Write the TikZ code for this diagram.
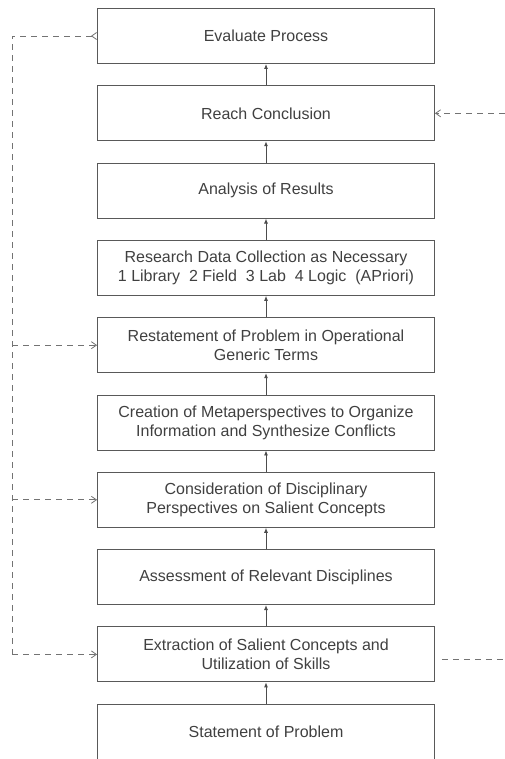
\documentclass[tikz,border=0pt]{standalone}
\usepackage{fontspec}
\setmainfont{Liberation Sans}
\usetikzlibrary{positioning}
\usetikzlibrary{arrows.meta}
\tikzset{
    Box/.style = {rectangle, draw=black!65, align=center, text=black!75,
        minimum width=337pt, minimum height=55pt, line width=0.9pt,
        font=\fontsize{16}{19}\selectfont}
}
\tikzset{
    Edge/.style = {draw=black!70, line width=0.9pt, -{Latex[length=5pt,width=4pt]}}
}
\tikzset{
    Feed/.style = {draw=black!55, line width=0.8pt, dash pattern=on 6pt off 5pt}
}

\begin{document}
\begin{tikzpicture}[
    x=1pt, y=-1pt,
    node distance=21.4pt
]
\useasboundingbox (0,0) rectangle (505,759);
\node[Box] at (266,36) (eval) {Evaluate Process};
\node[Box, below=of eval] (concl) {Reach Conclusion};
\node[Box, below=of concl] (analysis) {Analysis of Results};
\node[Box, below=of analysis] (collect) {Research Data Collection as Necessary\\
    1 Library\ \ 2 Field\ \ 3 Lab\ \ 4 Logic\ \ (APriori)};
\node[Box, below=of collect] (restate) {Restatement of Problem in Operational\\Generic Terms};
\node[Box, below=of restate] (meta) {Creation of Metaperspectives to Organize\\Information and Synthesize Conflicts};
\node[Box, below=of meta] (consider) {Consideration of Disciplinary\\Perspectives on Salient Concepts};
\node[Box, below=of consider] (assess) {Assessment of Relevant Disciplines};
\node[Box, below=of assess] (extract) {Extraction of Salient Concepts and\\Utilization of Skills};
\node[Box, below=of extract] (statement) {Statement of Problem};
\path (statement) edge [Edge] (extract);
\path (extract) edge [Edge] (assess);
\path (assess) edge [Edge] (consider);
\path (consider) edge [Edge] (meta);
\path (meta) edge [Edge] (restate);
\path (restate) edge [Edge] (collect);
\path (collect) edge [Edge] (analysis);
\path (analysis) edge [Edge] (concl);
\path (concl) edge [Edge] (eval);
% feedback loop on the left
\coordinate[left=85pt of eval.west] (ltop);
\coordinate (lbot) at (ltop |- extract.west);
\draw[Feed, {Straight Barb[reversed,length=5pt,width=7pt]}-] (eval.west) -- (ltop) -- (lbot);
\draw[Feed, -{Straight Barb[length=5pt,width=7pt]}] (lbot) -- (extract.west);
\draw[Feed, -{Straight Barb[length=5pt,width=7pt]}] (ltop |- restate.west) -- (restate.west);
\draw[Feed, -{Straight Barb[length=5pt,width=7pt]}] (ltop |- consider.west) -- (consider.west);
% loose ends on the right
\coordinate[right=70pt of concl.east] (rin);
\coordinate[right=70pt of extract.east, yshift=-5pt] (rout);
\draw[Feed, -{Straight Barb[length=5pt,width=7pt]}] (rin) -- (concl.east);
\draw[Feed] ([xshift=7pt, yshift=-5pt]extract.east) -- (rout);
\end{tikzpicture}
\end{document}
